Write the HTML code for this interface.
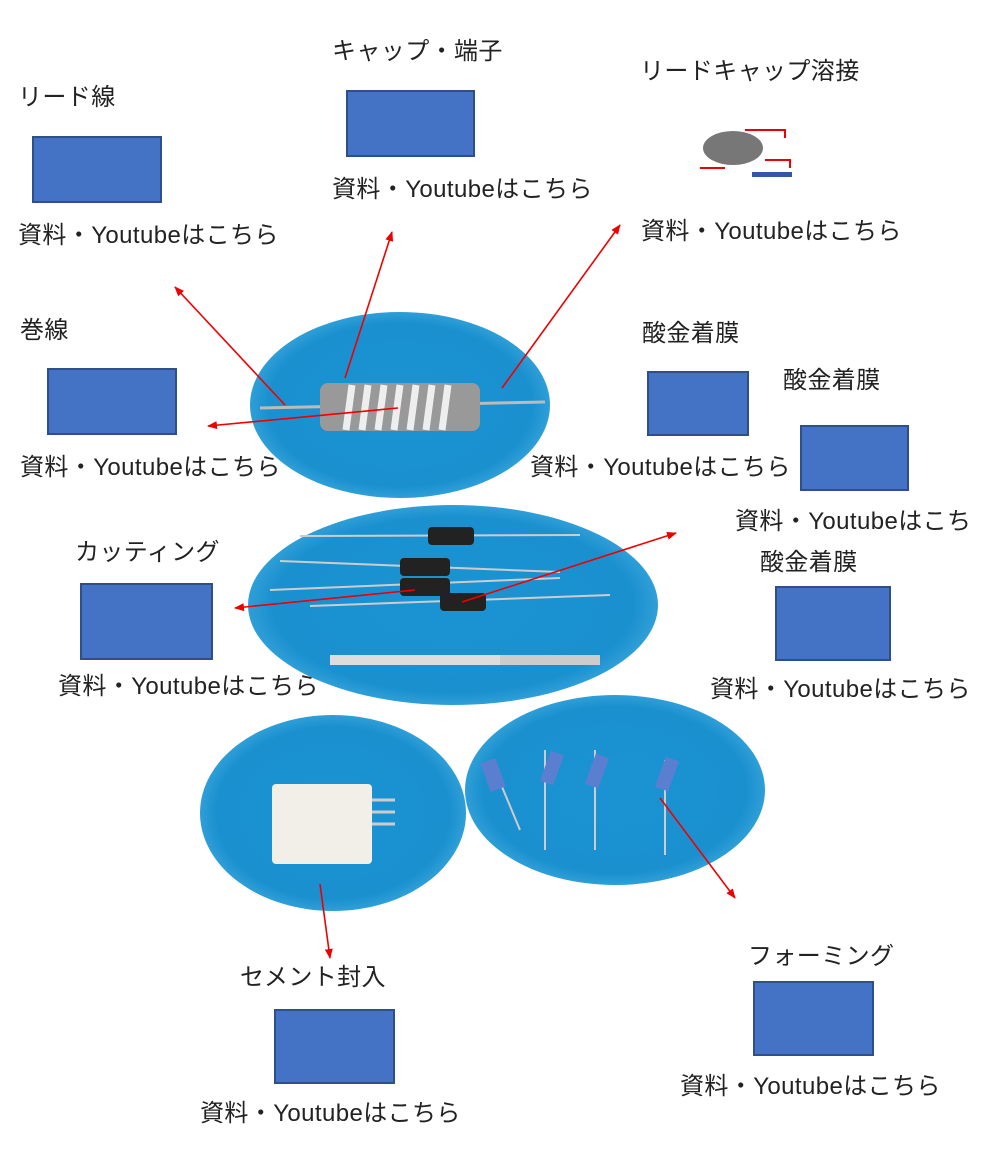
<!DOCTYPE html>
<html><head><meta charset="utf-8"><style>
body{margin:0;background:#fff;}
#c{position:relative;width:1000px;height:1167px;overflow:hidden;font-family:"Liberation Sans","Noto Sans CJK JP",sans-serif;color:#222;}
.t{position:absolute;font-size:24px;letter-spacing:0.4px;white-space:nowrap;line-height:1;}
.b{position:absolute;background:#4472C4;border:2px solid #2F4F8A;box-sizing:border-box;}
.e{position:absolute;border-radius:50%;background:radial-gradient(ellipse at center,#1b93d3 0%,#1a90cf 62%,#45aee0 80%,rgba(170,220,245,0.6) 92%,rgba(255,255,255,0) 100%);}
</style></head><body><div id="c">
<div class="e" style="left:250px;top:312px;width:300px;height:186px"></div>
<div class="e" style="left:248px;top:505px;width:410px;height:200px"></div>
<div class="e" style="left:200px;top:715px;width:266px;height:196px"></div>
<div class="e" style="left:465px;top:695px;width:300px;height:190px"></div>
<svg style="position:absolute;left:0;top:0" width="1000" height="1167">
<defs><marker id="a" markerWidth="10" markerHeight="8" refX="9" refY="4" orient="auto" markerUnits="userSpaceOnUse"><path d="M0,0 L10,4 L0,8z" fill="#e00"/></marker></defs>
<line x1="260" y1="408" x2="545" y2="402" stroke="#bbb" stroke-width="3"/>
<rect x="320" y="383" width="160" height="48" rx="8" fill="#999"/>
<g stroke="#eee" stroke-width="7">
<line x1="352" y1="385" x2="346" y2="430"/><line x1="368" y1="385" x2="362" y2="430"/><line x1="384" y1="385" x2="378" y2="430"/><line x1="400" y1="385" x2="394" y2="430"/><line x1="416" y1="385" x2="410" y2="430"/><line x1="432" y1="385" x2="426" y2="430"/><line x1="448" y1="385" x2="442" y2="430"/></g>
<g stroke="#ccc" stroke-width="2"><line x1="300" y1="536" x2="580" y2="535"/><line x1="280" y1="561" x2="560" y2="572"/><line x1="270" y1="590" x2="560" y2="578"/><line x1="310" y1="606" x2="610" y2="595"/></g>
<g fill="#222"><rect x="428" y="527" width="46" height="18" rx="4"/><rect x="400" y="558" width="50" height="18" rx="4"/><rect x="400" y="578" width="50" height="18" rx="4"/><rect x="440" y="593" width="46" height="18" rx="4"/></g>
<g fill="#ccc"><rect x="500" y="655" width="100" height="10"/><rect x="330" y="655" width="170" height="10" fill="#ddd"/></g>
<rect x="272" y="784" width="100" height="80" rx="4" fill="#f1efe8"/>
<g stroke="#ccc" stroke-width="3"><line x1="372" y1="800" x2="395" y2="800"/><line x1="372" y1="812" x2="395" y2="812"/><line x1="372" y1="824" x2="395" y2="824"/></g>
<g stroke="#ccc" stroke-width="2" fill="none"><path d="M495 770 L520 830"/><path d="M545 750 L545 850"/><path d="M595 750 L595 850"/><path d="M665 760 L665 855"/></g>
<g fill="#5b7fd0"><rect x="485" y="760" width="16" height="30" transform="rotate(-20 493 775)"/><rect x="545" y="752" width="14" height="32" transform="rotate(20 552 768)"/><rect x="590" y="755" width="14" height="32" transform="rotate(20 597 771)"/><rect x="660" y="758" width="14" height="32" transform="rotate(20 667 774)"/></g>
<ellipse cx="733" cy="148" rx="30" ry="17" fill="#777"/>
<g stroke="#e00" stroke-width="2" fill="none"><path d="M745 130 L785 130 L785 138"/><path d="M700 168 L725 168"/><path d="M765 160 L790 160 L790 168"/></g>
<rect x="752" y="172" width="40" height="5" fill="#3355aa"/>
<g stroke="#e00" stroke-width="1.6" marker-end="url(#a)">
<line x1="285" y1="405" x2="175" y2="287"/>
<line x1="345" y1="378" x2="392" y2="232"/>
<line x1="502" y1="388" x2="620" y2="225"/>
<line x1="398" y1="408" x2="208" y2="426"/>
<line x1="415" y1="590" x2="235" y2="608"/>
<line x1="462" y1="602" x2="676" y2="533"/>
<line x1="320" y1="884" x2="330" y2="958"/>
<line x1="660" y1="798" x2="735" y2="898"/>
</g>
</svg>
<div class="b" style="left:32px;top:136px;width:130px;height:67px"></div>
<div class="b" style="left:346px;top:90px;width:129px;height:67px"></div>
<div class="b" style="left:47px;top:368px;width:130px;height:67px"></div>
<div class="b" style="left:647px;top:371px;width:102px;height:65px"></div>
<div class="b" style="left:800px;top:425px;width:109px;height:66px"></div>
<div class="b" style="left:80px;top:583px;width:133px;height:77px"></div>
<div class="b" style="left:775px;top:586px;width:116px;height:75px"></div>
<div class="b" style="left:274px;top:1009px;width:121px;height:75px"></div>
<div class="b" style="left:753px;top:981px;width:121px;height:75px"></div>
<div class="t" style="left:18px;top:86px">リード線</div>
<div class="t" style="left:18px;top:224px">資料・Youtubeはこちら</div>
<div class="t" style="left:332px;top:40px">キャップ・端子</div>
<div class="t" style="left:332px;top:178px">資料・Youtubeはこちら</div>
<div class="t" style="left:640px;top:60px">リードキャップ溶接</div>
<div class="t" style="left:641px;top:220px">資料・Youtubeはこちら</div>
<div class="t" style="left:20px;top:319px">巻線</div>
<div class="t" style="left:20px;top:456px">資料・Youtubeはこちら</div>
<div class="t" style="left:642px;top:322px">酸金着膜</div>
<div class="t" style="left:530px;top:456px">資料・Youtubeはこちら</div>
<div class="t" style="left:783px;top:369px">酸金着膜</div>
<div class="t" style="left:735px;top:510px">資料・Youtubeはこち</div>
<div class="t" style="left:75px;top:541px">カッティング</div>
<div class="t" style="left:58px;top:675px">資料・Youtubeはこちら</div>
<div class="t" style="left:760px;top:551px">酸金着膜</div>
<div class="t" style="left:710px;top:678px">資料・Youtubeはこちら</div>
<div class="t" style="left:240px;top:966px">セメント封入</div>
<div class="t" style="left:200px;top:1102px">資料・Youtubeはこちら</div>
<div class="t" style="left:748px;top:945px">フォーミング</div>
<div class="t" style="left:680px;top:1075px">資料・Youtubeはこちら</div>
</div></body></html>
